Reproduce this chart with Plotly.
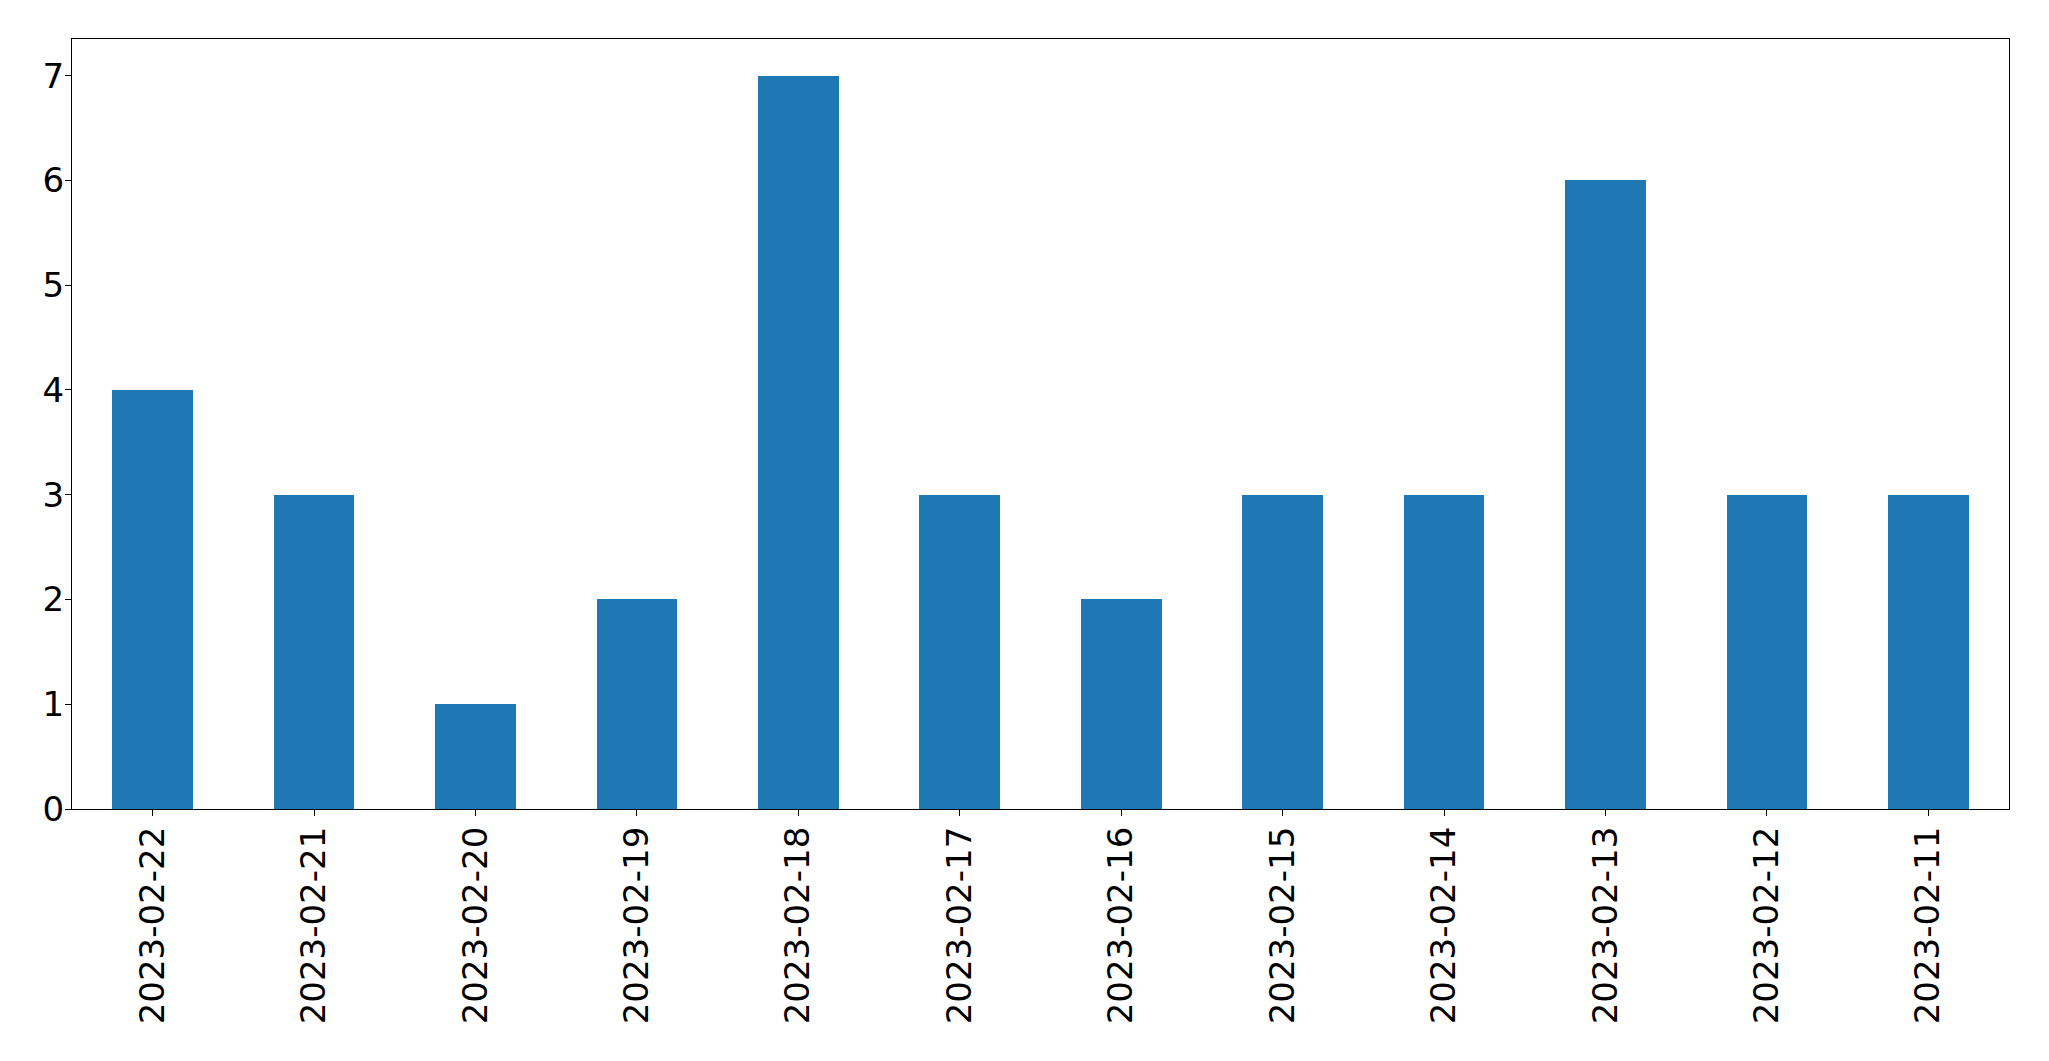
import plotly.graph_objects as go

dates = ["2023-02-22", "2023-02-21", "2023-02-20", "2023-02-19", "2023-02-18", "2023-02-17",
         "2023-02-16", "2023-02-15", "2023-02-14", "2023-02-13", "2023-02-12", "2023-02-11"]
counts = [4, 3, 1, 2, 7, 3, 2, 3, 3, 6, 3, 3]
y_ticks = [0, 1, 2, 3, 4, 5, 6, 7]

fig = go.Figure(go.Bar(x=list(range(len(dates))), y=counts, width=0.5,
                       marker=dict(color="#1f77b4", line=dict(width=0))))

font = dict(family="DejaVu Sans", size=34, color="black")
fig.update_layout(
    width=2041, height=1053,
    margin=dict(l=64, r=40, t=31, b=252),
    plot_bgcolor="white", paper_bgcolor="white",
    showlegend=False, bargap=0,
    font=font,
)
fig.update_xaxes(
    range=[-0.5, 11.5], tickmode="array", tickvals=list(range(len(dates))), ticktext=dates,
    tickangle=-90, ticks="outside", ticklen=6, tickwidth=1.3, tickcolor="black",
    showline=True, linecolor="black", linewidth=1.3, mirror=True,
    showgrid=False, zeroline=False, tickfont=font, automargin=False,
    ticklabelstandoff=-3,
)
fig.update_yaxes(
    range=[0, 7.35], tickmode="array", tickvals=y_ticks,
    ticks="outside", ticklen=6, tickwidth=1.3, tickcolor="black",
    showline=True, linecolor="black", linewidth=1.3, mirror=True,
    showgrid=False, zeroline=False, tickfont=font, automargin=False,
    ticklabelstandoff=-6,
)
fig.write_html("out.html")
